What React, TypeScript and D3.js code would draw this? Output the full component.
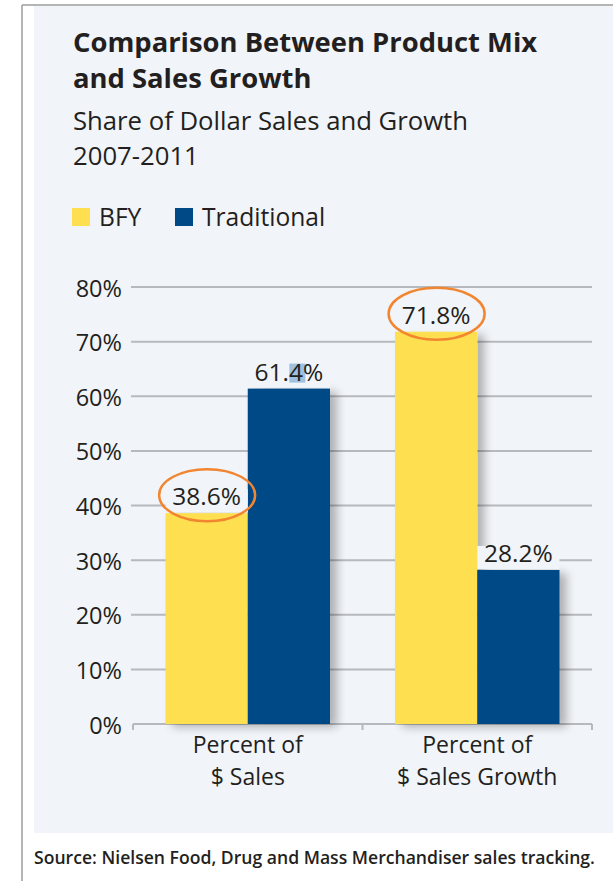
import React from "react";
import * as d3 from "d3";

const categories = ["Percent of\n$ Sales", "Percent of\n$ Sales Growth"];
const seriesNames = ["BFY", "Traditional"];
const bfyValues = [38.6, 71.8];
const traditionalValues = [61.4, 28.2];
const yTicks = [0, 10, 20, 30, 40, 50, 60, 70, 80];
const circledValues = [38.6, 71.8];

const W = 613;
const H = 881;
const FONT = "'Open Sans', 'Noto Sans', sans-serif";
const TEXT = "#231f20";
const PANEL = "#f1f4f8";
const GRID = "#b6b9bd";
const COLORS: Record<string, string> = { BFY: "#fedf50", Traditional: "#004987" };

export default function App() {
  const x0 = d3.scaleBand<string>().domain(categories).range([133, 592]).paddingInner(0).paddingOuter(0);
  const x1 = d3
    .scaleBand<string>()
    .domain(seriesNames)
    .range([32.5, x0.bandwidth() - 32.5])
    .padding(0);
  const y = d3.scaleLinear().domain([0, 80]).range([724, 287]);

  const seriesValues: Record<string, number[]> = { BFY: bfyValues, Traditional: traditionalValues };
  const bars = categories.flatMap((c, i) =>
    seriesNames.map((s) => ({
      cat: c,
      series: s,
      value: seriesValues[s][i],
      x: (x0(c) ?? 0) + (x1(s) ?? 0),
      w: x1.bandwidth(),
    }))
  );

  return (
    <div style={{ position: "absolute", left: 0, top: 0 }}>
      <svg width={W} height={H} style={{ display: "block", fontFamily: FONT }}>
        <defs>
          <filter id="shadow" x="-30%" y="-10%" width="160%" height="130%">
            <feGaussianBlur in="SourceAlpha" stdDeviation="5" />
            <feOffset dx="7" dy="3" result="b" />
            <feComponentTransfer>
              <feFuncA type="linear" slope="0.28" />
            </feComponentTransfer>
            <feMerge>
              <feMergeNode />
              <feMergeNode in="SourceGraphic" />
            </feMerge>
          </filter>
        </defs>
        <rect x={0} y={0} width={W} height={H} fill="#ffffff" />
        <rect x={34} y={6} width={W - 34} height={827} fill={PANEL} />
        <line x1={22} y1={5} x2={W} y2={5} stroke="#9c9c9c" strokeWidth={1.5} />
        <line x1={22} y1={5} x2={22} y2={H} stroke="#9c9c9c" strokeWidth={1.5} />

        <text x={73} y={52} fontSize={27.4} fontWeight={700} fill={TEXT}>
          Comparison Between Product Mix
        </text>
        <text x={73} y={88} fontSize={27.4} fontWeight={700} fill={TEXT}>
          and Sales Growth
        </text>
        <text x={73} y={130} fontSize={25.7} fill={TEXT}>
          Share of Dollar Sales and Growth
        </text>
        <text x={73} y={165} fontSize={25.7} fill={TEXT}>
          2007-2011
        </text>

        {seriesNames.map((s, i) => {
          const lx = [72, 175][i];
          return (
            <g key={s}>
              <rect x={lx} y={208} width={18} height={18} fill={COLORS[s]} />
              <text x={lx + 27} y={226} fontSize={24.6} fill={TEXT}>
                {s}
              </text>
            </g>
          );
        })}

        {yTicks
          .filter((t) => t > 0)
          .map((t) => (
            <line key={t} x1={131} x2={592} y1={y(t)} y2={y(t)} stroke={GRID} strokeWidth={2} />
          ))}
        <line x1={133} x2={592} y1={y(0)} y2={y(0)} stroke={GRID} strokeWidth={2} />
        {[...categories.map((c) => x0(c) ?? 0), 592].map((tx, i) => (
          <line key={i} x1={tx} x2={tx} y1={y(0)} y2={y(0) + 6} stroke={GRID} strokeWidth={2} />
        ))}

        {yTicks.map((t) => (
          <text key={t} x={122} y={y(t) + 9.5} fontSize={23.5} textAnchor="end" fill={TEXT}>
            {t}%
          </text>
        ))}

        <g filter="url(#shadow)">
          {bars.map((b, i) => (
            <rect key={i} x={b.x} y={y(b.value)} width={b.w} height={y(0) - y(b.value)} fill={COLORS[b.series]} />
          ))}
        </g>

        {bars.map((b, i) => (
          <rect key={"bg" + i} x={b.x} y={y(b.value) - 24} width={b.w} height={23} fill={PANEL} />
        ))}
        {bars
          .filter((b) => b.value === 61.4)
          .map((b, i) => (
            <rect key={"hl" + i} x={b.x + b.w / 2 + 0.5} y={y(b.value) - 25} width={16} height={19} fill="#9fc0de" />
          ))}
        {bars.map((b, i) => (
          <text
            key={"lb" + i}
            x={b.x + b.w / 2}
            y={y(b.value) - 8}
            fontSize={24.5}
            textAnchor="middle"
            fill={TEXT}
          >
            {b.value.toFixed(1)}%
          </text>
        ))}
        {bars
          .filter((b) => circledValues.includes(b.value))
          .map((b, i) => (
            <ellipse
              key={"el" + i}
              cx={b.x + b.w / 2 + 0.5}
              cy={y(b.value) - 18}
              rx={48}
              ry={26}
              fill="none"
              stroke="#f28530"
              strokeWidth={2.5}
            />
          ))}

        {categories.map((c) => {
          const cx = (x0(c) ?? 0) + x0.bandwidth() / 2;
          return c.split("\n").map((ln, j) => (
            <text key={c + j} x={cx} y={753 + j * 32} fontSize={23} textAnchor="middle" fill={TEXT}>
              {ln}
            </text>
          ));
        })}

        <text x={34} y={864} fontSize={17.6} fontWeight={600} fill={TEXT}>
          Source: Nielsen Food, Drug and Mass Merchandiser sales tracking.
        </text>
      </svg>
    </div>
  );
}
